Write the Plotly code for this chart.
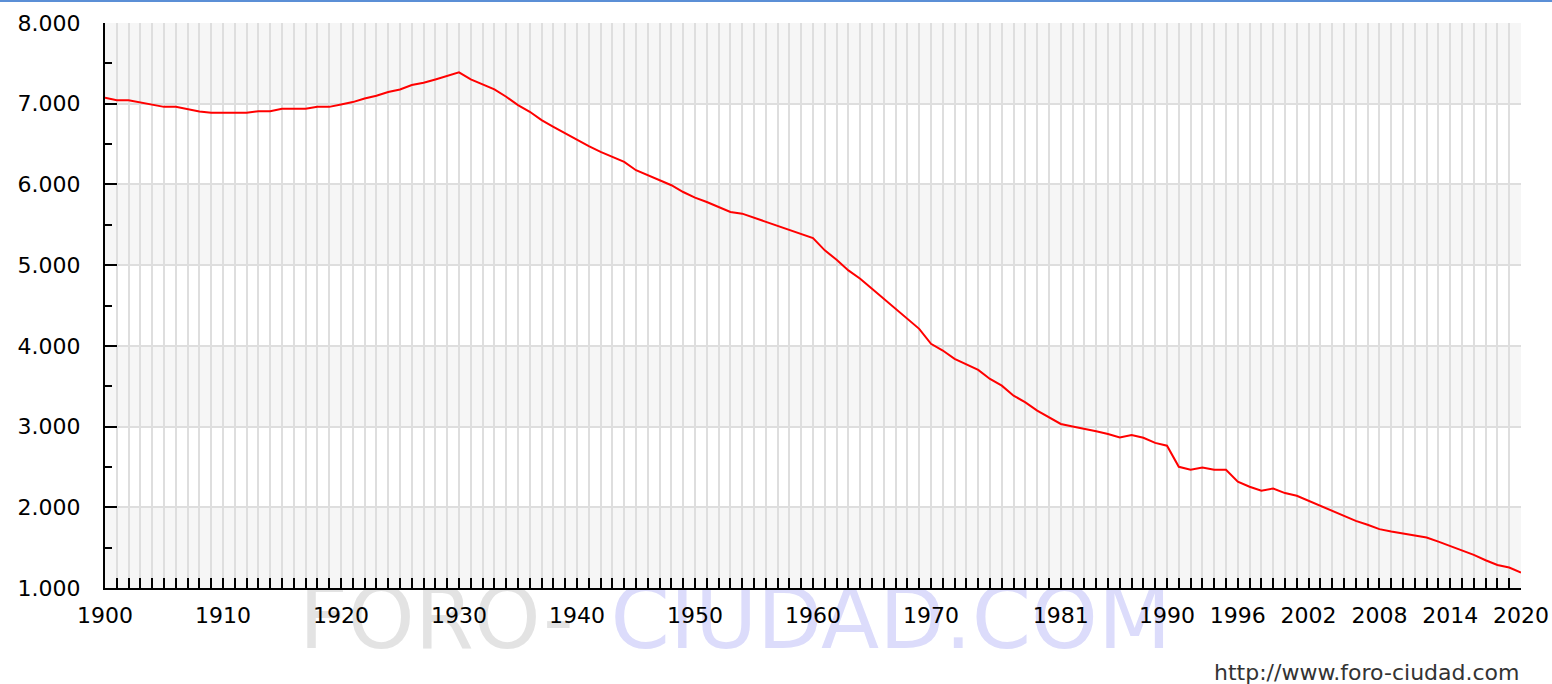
import plotly.graph_objects as go

years = list(range(1900, 2021))
population = [
    7073, 7044, 7044, 7016, 6991, 6961, 6961, 6933, 6904, 6887,
    6887, 6887, 6887, 6908, 6908, 6937, 6937, 6937, 6961, 6961,
    6991, 7020, 7065, 7098, 7144, 7177, 7231, 7259, 7301, 7342,
    7388, 7301, 7243, 7177, 7086, 6982, 6900, 6796, 6713, 6631,
    6557, 6474, 6403, 6341, 6279, 6176, 6114, 6052, 5990, 5906,
    5837, 5782, 5720, 5658, 5638, 5588, 5534, 5484, 5431, 5390,
    5335, 5183, 5067, 4935, 4832, 4708, 4583, 4459, 4335, 4211,
    4025, 3942, 3839, 3768, 3702, 3590, 3507, 3383, 3300, 3197,
    3114, 3032, 3000, 2974, 2941, 2908, 2866, 2896, 2862, 2798,
    2763, 2502, 2465, 2494, 2465, 2465, 2316, 2254, 2205, 2233,
    2176, 2142, 2080, 2018, 1956, 1894, 1832, 1783, 1729, 1699,
    1675, 1646, 1625, 1575, 1522, 1468, 1410, 1344, 1286, 1253,
    1191,
]
x_tick_years = [1900, 1910, 1920, 1930, 1940, 1950, 1960, 1970,
                1981, 1990, 1996, 2002, 2008, 2014, 2020]
y_ticks = [1000, 2000, 3000, 4000, 5000, 6000, 7000, 8000]
shaded_bands = [(7000, 8000), (5000, 6000), (3000, 4000), (1000, 2000)]
watermark_texts = ["FORO-", "CIUDAD.COM"]
watermark_colors = ["#e3e3e3", "#dcdcfb"]
watermark_centers = [0.234, 0.555]
source_text = "http://www.foro-ciudad.com"

W, H = 1552, 684
ML, MR, MT, MB = 105, 31, 23, 0
PW, PH = W - ML - MR, H - MT - MB
main_bottom = (H - 588) / PH

GRID = "#dedede"
FONT = "DejaVu Sans"

fig = go.Figure()

# watermark lives in its own (hidden) subplot drawn beneath the chart's axes
fig.add_trace(go.Scatter(
    x=watermark_centers, y=[0.62, 0.62], mode="text", text=watermark_texts,
    textposition="middle center", cliponaxis=False,
    textfont=dict(family=FONT, size=85, color=watermark_colors),
    hoverinfo="skip", showlegend=False, xaxis="x", yaxis="y",
))

fig.add_trace(go.Scatter(
    x=years, y=population, mode="lines",
    line=dict(color="#ff0000", width=2),
    showlegend=False, hoverinfo="x+y", xaxis="x2", yaxis="y2",
))

for lo, hi in shaded_bands:
    fig.add_shape(type="rect", xref="x2", yref="y2", x0=years[0], x1=years[-1],
                  y0=lo, y1=hi, fillcolor="#f6f6f6", line=dict(width=0),
                  layer="below")

# thin blue line along the top of the page
fig.add_shape(type="line", xref="paper", yref="paper",
              x0=-ML / PW, x1=1 + MR / PW, y0=1 + (MT - 1) / PH, y1=1 + (MT - 1) / PH,
              line=dict(color="#5b8fd6", width=2))

fig.add_annotation(text=source_text, xref="paper", yref="paper",
                   x=1, y=(H - 672) / PH, xanchor="right", yanchor="middle",
                   showarrow=False, font=dict(family=FONT, size=22, color="#333333"))

fig.update_layout(
    xaxis=dict(domain=[0, 1], range=[0, 1], visible=False, fixedrange=True),
    yaxis=dict(domain=[0, main_bottom - 0.005], range=[0, 1], visible=False,
               fixedrange=True),
    xaxis2=dict(
        domain=[0, 1], anchor="y2",
        range=[1900, 2020], tickmode="array", tickvals=x_tick_years,
        ticktext=[str(v) for v in x_tick_years],
        ticks="inside", ticklen=10, tickwidth=2, tickcolor="#000000",
        showline=True, linecolor="#000000", linewidth=2,
        showgrid=True, gridcolor=GRID, gridwidth=2,
        minor=dict(tick0=1900, dtick=1, ticks="inside", ticklen=10, tickwidth=2,
                   tickcolor="#000000", showgrid=True, gridcolor=GRID, gridwidth=2),
        ticklabelstandoff=7,
        tickfont=dict(family=FONT, size=22, color="#000000"),
        zeroline=False, fixedrange=True,
    ),
    yaxis2=dict(
        domain=[main_bottom, 1], anchor="x2",
        range=[1000, 8000], tickmode="array", tickvals=y_ticks, tickformat=",d",
        ticks="inside", ticklen=12, tickwidth=2, tickcolor="#000000",
        showline=True, linecolor="#000000", linewidth=2,
        showgrid=True, gridcolor=GRID, gridwidth=2,
        minor=dict(tick0=1000, dtick=500, ticks="inside", ticklen=7, tickwidth=2,
                   tickcolor="#000000", showgrid=False),
        ticklabelstandoff=18,
        tickfont=dict(family=FONT, size=22, color="#000000"),
        zeroline=False, fixedrange=True,
    ),
    width=W, height=H, autosize=False,
    margin=dict(l=ML, r=MR, t=MT, b=MB, pad=0, autoexpand=False),
    paper_bgcolor="#ffffff", plot_bgcolor="rgba(0,0,0,0)",
    separators=",.", showlegend=False,
)

fig.write_html("out.html", config={"displayModeBar": False},
               post_script="document.body.style.margin='0';document.body.style.overflow='hidden';")
